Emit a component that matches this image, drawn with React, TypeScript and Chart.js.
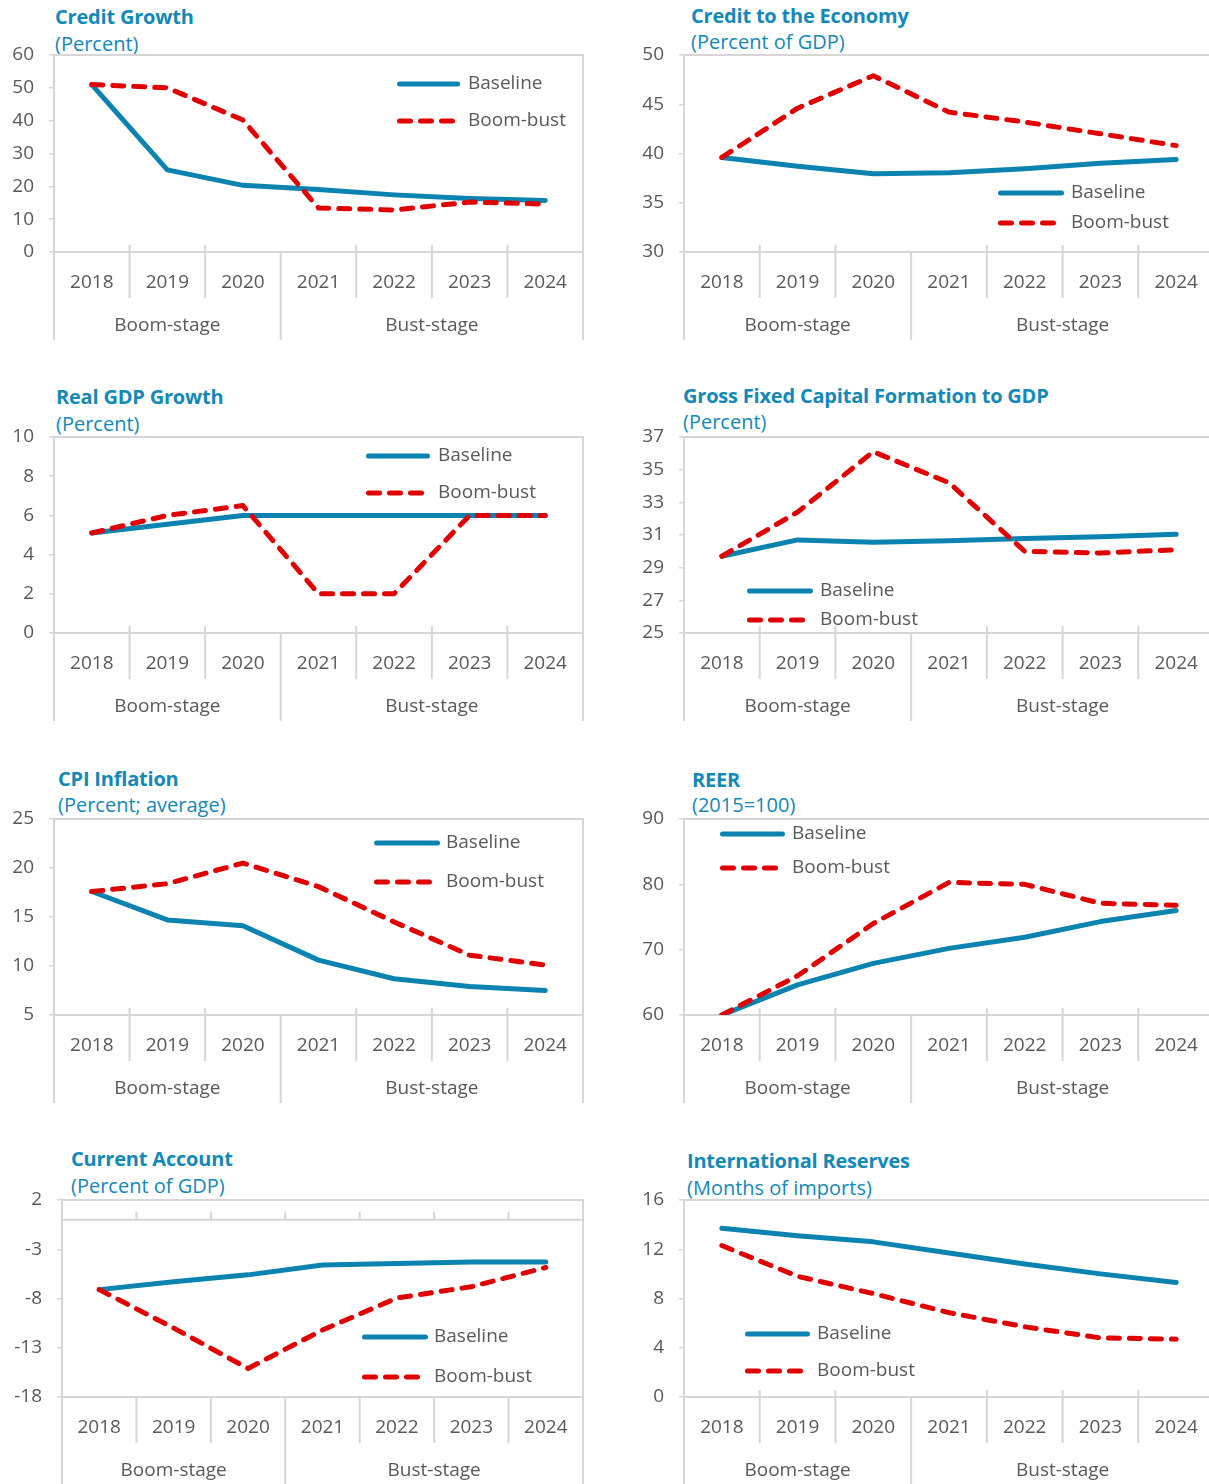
import React, { useEffect, useRef } from 'react';
import { Chart, registerables } from 'chart.js';

Chart.register(...registerables);

// ---------------- DATA ----------------
const years = ['2018', '2019', '2020', '2021', '2022', '2023', '2024'];
const stages = ['Boom-stage', 'Bust-stage'];
const stageSizes = [3, 4];
const seriesNames = ['Baseline', 'Boom-bust'];

const creditGrowthBaseline = [51, 25, 20.3, 19, 17.4, 16.3, 15.7];
const creditGrowthBoomBust = [51, 50, 40.2, 13.4, 12.8, 15.2, 14.6];
const creditGrowthTicks = [0, 10, 20, 30, 40, 50, 60];

const creditEconomyBaseline = [39.6, 38.7, 37.95, 38.05, 38.45, 39.0, 39.4];
const creditEconomyBoomBust = [39.6, 44.6, 47.9, 44.2, 43.2, 42.0, 40.8];
const creditEconomyTicks = [30, 35, 40, 45, 50];

const gdpBaseline = [5.1, 5.55, 6.0, 6.0, 6.0, 6.0, 6.0];
const gdpBoomBust = [5.1, 6.0, 6.5, 2.0, 2.0, 6.0, 6.0];
const gdpTicks = [0, 2, 4, 6, 8, 10];

const gfcfBaseline = [29.7, 30.7, 30.55, 30.65, 30.78, 30.9, 31.04];
const gfcfBoomBust = [29.7, 32.4, 36.1, 34.2, 30.0, 29.9, 30.1];
const gfcfTicks = [25, 27, 29, 31, 33, 35, 37];

const cpiBaseline = [17.6, 14.7, 14.1, 10.6, 8.7, 7.9, 7.5];
const cpiBoomBust = [17.6, 18.4, 20.5, 18.1, 14.5, 11.1, 10.1];
const cpiTicks = [5, 10, 15, 20, 25];

const reerBaseline = [60, 64.6, 67.9, 70.2, 71.9, 74.3, 76.0];
const reerBoomBust = [60, 66.0, 74.0, 80.3, 80.0, 77.1, 76.8];
const reerTicks = [60, 70, 80, 90];

const caBaseline = [-7.1, -6.3, -5.6, -4.6, -4.45, -4.3, -4.3];
const caBoomBust = [-7.1, -11.0, -15.1, -11.2, -7.95, -6.8, -4.85];
const caTicks = [-18, -13, -8, -3, 2];

const reservesBaseline = [13.7, 13.1, 12.6, 11.7, 10.8, 10.0, 9.3];
const reservesBoomBust = [12.3, 9.8, 8.4, 6.85, 5.7, 4.8, 4.7];
const reservesTicks = [0, 4, 8, 12, 16];

// ---------------- STYLE ----------------
const FONT = "'Open Sans', 'Noto Sans', sans-serif";
const BLUE = '#0a83b0';
const RED = '#e00000';
const TITLE = '#1488b6';
const TEXT = '#595959';
const GRID = '#d6d6d6';
const DASH = [11, 10];

type PanelCfg = {
  title: string;
  subtitle: string;
  base: number[];
  boom: number[];
  ticks: number[];
  plot: [number, number, number, number]; // left, right, top, bottom (page px)
  titlePos: [number, number, number]; // x, titleY, subtitleY
  legend: [number, number, number, number, number]; // x0, x1, y1, y2, textX
  zeroLine?: boolean;
};

const panels: PanelCfg[] = [
  { title: 'Credit Growth', subtitle: '(Percent)', base: creditGrowthBaseline, boom: creditGrowthBoomBust, ticks: creditGrowthTicks, plot: [54, 583, 55, 252], titlePos: [55, 17, 44], legend: [397, 460, 84, 121, 468] },
  { title: 'Credit to the Economy', subtitle: '(Percent of GDP)', base: creditEconomyBaseline, boom: creditEconomyBoomBust, ticks: creditEconomyTicks, plot: [684, 1214, 55, 252], titlePos: [691, 16, 42], legend: [998, 1064, 193, 223, 1071] },
  { title: 'Real GDP Growth', subtitle: '(Percent)', base: gdpBaseline, boom: gdpBoomBust, ticks: gdpTicks, plot: [54, 583, 437, 633], titlePos: [56, 397, 424], legend: [366, 430, 456, 493, 438] },
  { title: 'Gross Fixed Capital Formation to GDP', subtitle: '(Percent)', base: gfcfBaseline, boom: gfcfBoomBust, ticks: gfcfTicks, plot: [684, 1214, 437, 633], titlePos: [683, 396, 422], legend: [747, 813, 591, 620, 820] },
  { title: 'CPI Inflation', subtitle: '(Percent; average)', base: cpiBaseline, boom: cpiBoomBust, ticks: cpiTicks, plot: [54, 583, 819, 1015], titlePos: [58, 779, 805], legend: [374, 440, 843, 882, 446] },
  { title: 'REER', subtitle: '(2015=100)', base: reerBaseline, boom: reerBoomBust, ticks: reerTicks, plot: [684, 1214, 819, 1015], titlePos: [692, 780, 805], legend: [720, 785, 834, 868, 792] },
  { title: 'Current Account', subtitle: '(Percent of GDP)', base: caBaseline, boom: caBoomBust, ticks: caTicks, plot: [62, 583, 1200, 1397], titlePos: [71, 1159, 1186], legend: [362, 428, 1337, 1377, 434], zeroLine: true },
  { title: 'International Reserves', subtitle: '(Months of imports)', base: reservesBaseline, boom: reservesBoomBust, ticks: reservesTicks, plot: [684, 1214, 1200, 1397], titlePos: [687, 1161, 1188], legend: [745, 810, 1334, 1371, 817] },
];

const TOP_PAD = 12;
const BELOW = 100;

function Panel({ cfg }: { cfg: PanelCfg }) {
  const ref = useRef<HTMLCanvasElement>(null);
  const [pl, pr, pt, pb] = cfg.plot;
  const canvasLeft = pl < 600 ? 0 : 604;
  const canvasW = pl < 600 ? 604 : 610;
  const canvasTop = pt - TOP_PAD;
  const canvasH = pb - canvasTop + BELOW;
  const areaLeft = pl - canvasLeft;
  const areaRight = pr - canvasLeft;
  const areaBottom = pb - canvasTop;

  useEffect(() => {
    const canvas = ref.current!;
    const decor = {
      id: 'decor',
      beforeDatasetsDraw(chart: any) {
        const { ctx, chartArea: a, scales } = chart;
        const xs = scales.x;
        const ys = scales.y;
        ctx.save();
        ctx.strokeStyle = GRID;
        ctx.lineWidth = 2;
        ctx.strokeRect(a.left, a.top, a.right - a.left, a.bottom - a.top);
        const n = years.length;
        const bounds: number[] = [a.left];
        for (let i = 1; i < n; i++) {
          bounds.push((xs.getPixelForValue(i - 1) + xs.getPixelForValue(i)) / 2);
        }
        bounds.push(a.right);
        const groupIdx = new Set<number>([0, n]);
        let acc = 0;
        stageSizes.forEach((s) => { acc += s; groupIdx.add(acc); });
        ctx.beginPath();
        bounds.forEach((bx, i) => {
          const isGroup = groupIdx.has(i);
          const y0 = (isGroup || cfg.zeroLine) ? a.bottom : a.bottom - 7;
          const y1 = isGroup ? a.bottom + 88 : a.bottom + 46;
          ctx.moveTo(bx, y0);
          ctx.lineTo(bx, y1);
        });
        if (cfg.zeroLine) {
          const zy = ys.getPixelForValue(0);
          ctx.moveTo(a.left, zy);
          ctx.lineTo(a.right, zy);
          for (let i = 1; i < n; i++) {
            ctx.moveTo(bounds[i], zy);
            ctx.lineTo(bounds[i], zy - 8);
          }
        }
        ctx.stroke();
        ctx.fillStyle = TEXT;
        ctx.font = `19px ${FONT}`;
        ctx.textAlign = 'center';
        ctx.textBaseline = 'middle';
        let start = 0;
        stages.forEach((label, gi) => {
          const end = start + stageSizes[gi];
          const cx = (bounds[start] + bounds[end]) / 2;
          ctx.fillText(label, cx, a.bottom + 74);
          start = end;
        });
        ctx.restore();
      },
      afterDraw(chart: any) {
        const { ctx } = chart;
        const [x0, x1, y1, y2, tx] = cfg.legend;
        const ox = -canvasLeft;
        const oy = -canvasTop;
        ctx.save();
        ctx.lineWidth = 5;
        ctx.lineCap = 'round';
        ctx.strokeStyle = BLUE;
        ctx.setLineDash([]);
        ctx.beginPath();
        ctx.moveTo(x0 + 2.5 + ox, y1 + oy);
        ctx.lineTo(x1 - 2.5 + ox, y1 + oy);
        ctx.stroke();
        ctx.strokeStyle = RED;
        ctx.setLineDash(DASH);
        ctx.beginPath();
        ctx.moveTo(x0 + 2.5 + ox, y2 + oy);
        ctx.lineTo(x1 - 2.5 + ox, y2 + oy);
        ctx.stroke();
        ctx.setLineDash([]);
        ctx.fillStyle = TEXT;
        ctx.font = `19px ${FONT}`;
        ctx.textAlign = 'left';
        ctx.textBaseline = 'middle';
        ctx.fillText(seriesNames[0], tx + ox, y1 + oy);
        ctx.fillText(seriesNames[1], tx + ox, y2 + oy);
        ctx.restore();
      },
    };

    const chart = new Chart(canvas, {
      type: 'line',
      data: {
        labels: years,
        datasets: [
          {
            label: seriesNames[1],
            data: cfg.boom,
            borderColor: RED,
            borderWidth: 5,
            borderDash: DASH,
            borderCapStyle: 'round',
            borderJoinStyle: 'round',
            pointRadius: 0,
            tension: 0,
            fill: false,
          },
          {
            label: seriesNames[0],
            data: cfg.base,
            borderColor: BLUE,
            borderWidth: 5,
            borderCapStyle: 'round',
            borderJoinStyle: 'round',
            pointRadius: 0,
            tension: 0,
            fill: false,
          },
        ],
      },
      options: {
        animation: false,
        responsive: false,
        maintainAspectRatio: false,
        devicePixelRatio: 1,
        layout: {
          autoPadding: false,
          padding: { left: 0, top: TOP_PAD, right: canvasW - areaRight, bottom: 0 },
        },
        plugins: {
          legend: { display: false },
          title: { display: false },
          tooltip: { enabled: false },
        },
        scales: {
          x: {
            type: 'category',
            offset: true,
            grid: { display: false, drawTicks: false },
            border: { display: false },
            ticks: {
              color: TEXT,
              font: { family: FONT, size: 19 },
              padding: 19,
              maxRotation: 0,
              autoSkip: false,
            },
            afterFit: (s: any) => {
              s.height = canvasH - areaBottom;
              s.paddingLeft = 0; s.paddingRight = 0; s.paddingTop = 0; s.paddingBottom = 0;
            },
          },
          y: {
            type: 'linear',
            min: cfg.ticks[0],
            max: cfg.ticks[cfg.ticks.length - 1],
            afterBuildTicks: (s: any) => { s.ticks = cfg.ticks.map((v) => ({ value: v })); },
            afterFit: (s: any) => {
              s.width = areaLeft;
              s.paddingLeft = 0; s.paddingRight = 0; s.paddingTop = 0; s.paddingBottom = 0;
            },
            grid: { display: true, drawOnChartArea: false, drawTicks: true, tickLength: 5, color: GRID, lineWidth: 1.5 },
            border: { display: false },
            ticks: {
              color: TEXT,
              font: { family: FONT, size: 19 },
              padding: 15,
            },
          },
        },
      } as any,
      plugins: [decor],
    });
    return () => chart.destroy();
  }, []);

  const [tx, ty, sy] = cfg.titlePos;
  return (
    <>
      <div style={{ position: 'absolute', left: tx, top: ty - 13, lineHeight: '26px', fontFamily: FONT, fontWeight: 700, fontSize: 20, color: TITLE, whiteSpace: 'nowrap', letterSpacing: '-0.2px' }}>{cfg.title}</div>
      <div style={{ position: 'absolute', left: tx, top: sy - 13, lineHeight: '26px', fontFamily: FONT, fontSize: 20, color: TITLE, whiteSpace: 'nowrap' }}>{cfg.subtitle}</div>
      <canvas
        ref={ref}
        width={canvasW}
        height={canvasH}
        style={{ position: 'absolute', left: canvasLeft, top: canvasTop, width: canvasW, height: canvasH }}
      />
    </>
  );
}

export default function App() {
  return (
    <div style={{ position: 'absolute', left: 0, top: 0, width: 1209, height: 1484, overflow: 'hidden', background: '#ffffff' }}>
      {panels.map((p, i) => <Panel key={i} cfg={p} />)}
    </div>
  );
}
